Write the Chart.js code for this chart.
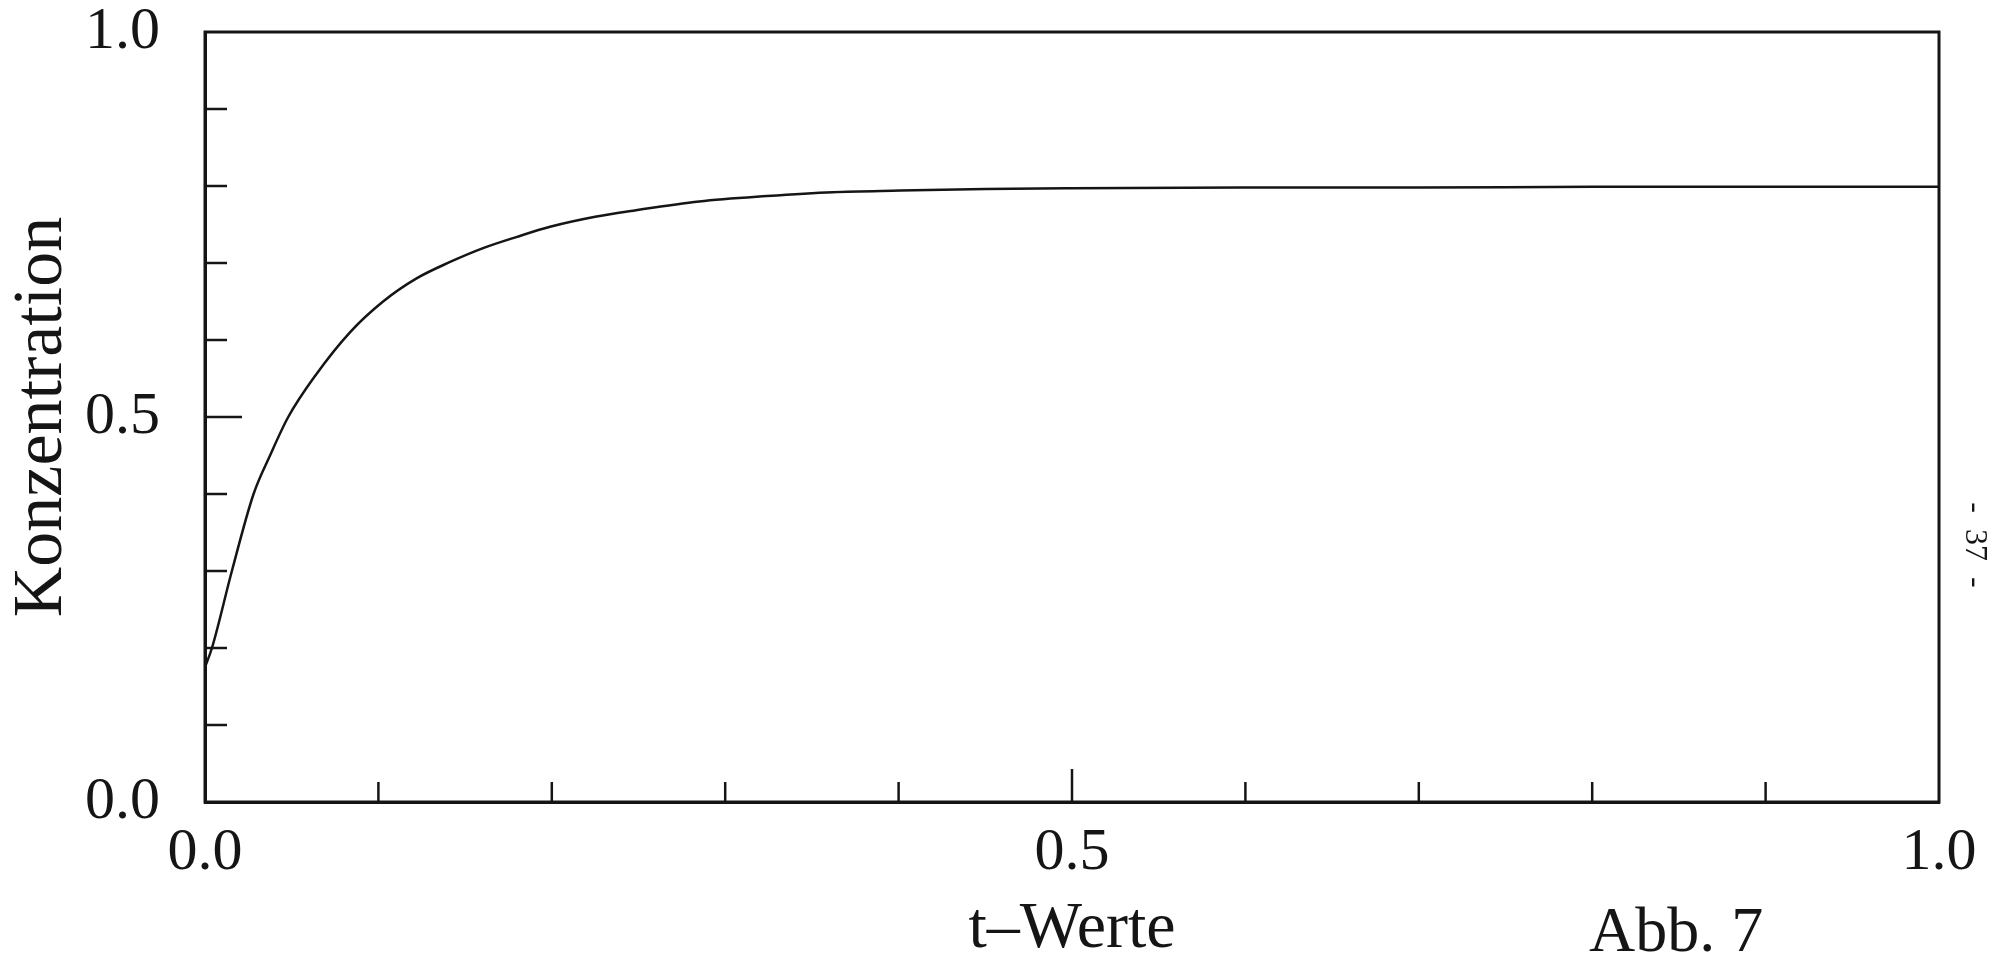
<!DOCTYPE html>
<html>
<head>
<meta charset="utf-8">
<script src="https://cdn.jsdelivr.net/npm/chart.js@4.4.1/dist/chart.umd.min.js"></script>
<style>
	html, body { margin: 0; padding: 0; background: #fff; }
	#wrap { width: 2009px; height: 965px; }
</style>
</head>
<body>
<div id="wrap"><canvas id="myChart" width="2009" height="965"></canvas></div>
<script>
// values (t, Konzentration)
var tWerte = [0, 0.004, 0.0155, 0.028, 0.0375, 0.048, 0.064, 0.0836, 0.1027, 0.122, 0.141, 0.160, 0.180,
	0.199, 0.225, 0.247, 0.285, 0.324, 0.362, 0.401, 0.45, 0.50, 0.60, 0.70, 0.80, 0.90, 1.00];
var konzentration = [0.175, 0.20, 0.30, 0.40, 0.45, 0.50, 0.555, 0.610, 0.650, 0.680, 0.701, 0.719, 0.734,
	0.747, 0.760, 0.768, 0.780, 0.787, 0.792, 0.794, 0.796, 0.797, 0.798, 0.798, 0.799, 0.799, 0.799];
var labeledTicks = [0, 0.5, 1.0];

var ink = '#151515';
var serif = '"Liberation Serif", "Times New Roman", serif';

function isLabeled(v) {
	return labeledTicks.some(function (l) { return Math.abs(l - v) < 1e-6; });
}
function isHalf(v) {
	return Math.abs(v - 0.5) < 1e-6;
}

var points = tWerte.map(function (t, i) { return { x: t, y: konzentration[i] }; });

// inward tick marks, frame and the loose texts of the page
var frameAndTicks = {
	id: 'frameAndTicks',
	afterDraw: function (chart) {
		var ctx = chart.ctx, a = chart.chartArea;
		var xs = chart.scales.x, ys = chart.scales.y;
		ctx.save();
		ctx.strokeStyle = ink;
		ctx.lineWidth = 2.5;
		ys.ticks.forEach(function (t) {
			if (t.value <= 0.001 || t.value >= 0.999) return;
			var p = ys.getPixelForValue(t.value);
			var len = isHalf(t.value) ? 37 : 22;
			ctx.beginPath(); ctx.moveTo(a.left, p); ctx.lineTo(a.left + len, p); ctx.stroke();
		});
		xs.ticks.forEach(function (t) {
			if (t.value <= 0.001 || t.value >= 0.999) return;
			var p = xs.getPixelForValue(t.value);
			var len = isHalf(t.value) ? 33 : 20;
			ctx.beginPath(); ctx.moveTo(p, a.bottom); ctx.lineTo(p, a.bottom - len); ctx.stroke();
		});
		ctx.lineWidth = 3;
		ctx.strokeRect(a.left, a.top, a.right - a.left, a.bottom - a.top);

		ctx.fillStyle = ink;
		ctx.font = '64px ' + serif;
		ctx.textAlign = 'left';
		ctx.textBaseline = 'alphabetic';
		ctx.fillText('Abb. 7', 1589, 951);

		ctx.translate(1974, 545);
		ctx.rotate(Math.PI / 2);
		ctx.textAlign = 'center';
		ctx.textBaseline = 'middle';
		ctx.font = '32px ' + serif;
		ctx.fillText('-  37  -', 0, 0);
		ctx.restore();
	}
};

var flightChart = new Chart(document.getElementById('myChart'), {
	type: 'line',
	data: {
		datasets: [{
			label: 'Konzentration',
			data: points,
			borderColor: ink,
			borderWidth: 2.5,
			pointRadius: 0,
			fill: false,
			cubicInterpolationMode: 'monotone'
		}]
	},
	options: {
		responsive: false,
		animation: false,
		devicePixelRatio: 1,
		layout: { padding: { left: 0, right: 70, top: 32, bottom: 0 } },
		plugins: {
			legend: { display: false },
			tooltip: { enabled: false }
		},
		scales: {
			x: {
				type: 'linear',
				min: 0,
				max: 1,
				grid: { drawOnChartArea: false, drawTicks: false },
				border: { display: true, color: ink, width: 3 },
				ticks: {
					stepSize: 0.1,
					autoSkip: false,
					maxRotation: 0,
					padding: 21,
					color: ink,
					font: { family: serif, size: 60, lineHeight: 1 },
					callback: function (v) { return isLabeled(v) ? v.toFixed(1) : ''; }
				},
				title: {
					display: true,
					text: 't–Werte',
					color: ink,
					font: { family: serif, size: 66, lineHeight: 1 },
					padding: { top: 0, bottom: 2 }
				},
				afterFit: function (scale) {
					scale.height = 163;
					scale.paddingLeft = 0;
					scale.paddingRight = 0;
				}
			},
			y: {
				min: 0,
				max: 1,
				grid: { drawOnChartArea: false, drawTicks: false },
				border: { display: true, color: ink, width: 3 },
				ticks: {
					stepSize: 0.1,
					autoSkip: false,
					padding: 45,
					color: ink,
					font: { family: serif, size: 60, lineHeight: 1 },
					callback: function (v) { return isLabeled(v) ? v.toFixed(1) : ''; }
				},
				title: {
					display: true,
					text: 'Konzentration',
					color: ink,
					font: { family: serif, size: 70, lineHeight: 1 },
					padding: { top: 8, bottom: 0 }
				},
				afterFit: function (scale) {
					scale.width = 205;
					scale.paddingTop = 0;
					scale.paddingBottom = 0;
				}
			}
		}
	},
	plugins: [frameAndTicks]
});
</script>
</body>
</html>
